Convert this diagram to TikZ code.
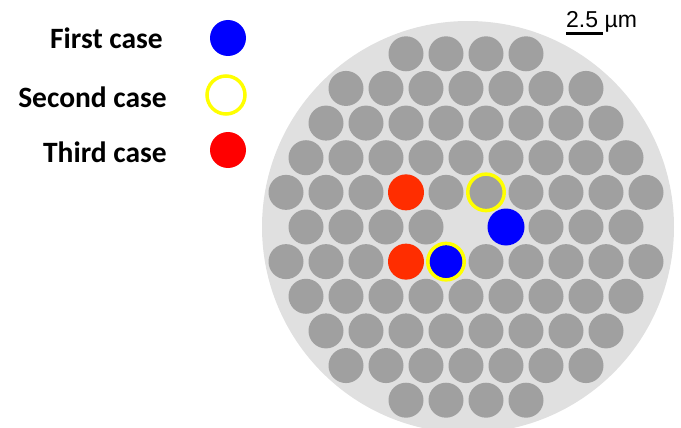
\documentclass[tikz,border=0pt]{standalone}
\usepackage{fontspec}
\newfontfamily\legendfont{Carlito}
\newfontfamily\barfont{Liberation Sans}
\definecolor{fibergray}{RGB}{160,160,160}
\definecolor{cladgray}{RGB}{224,224,224}
\definecolor{caseblue}{RGB}{0,0,255}
\definecolor{caseyellow}{RGB}{255,255,0}
\definecolor{casered}{RGB}{255,0,0}
\definecolor{corered}{RGB}{255,45,0}

\begin{document}
\begin{tikzpicture}[
  x=1pt, y=-1pt,
  fiber/.style={circle, fill=fibergray, minimum size=35pt, inner sep=0pt},
  casedot/.style={circle, minimum size=36pt, inner sep=0pt},
  casering/.style={circle, draw=caseyellow, line width=3.5pt,
                   minimum size=36.5pt, inner sep=0pt},
  legendtext/.style={font=\legendfont\bfseries\fontsize{29.5}{34}\selectfont,
                     anchor=base east, inner sep=0pt}
]
\useasboundingbox (0,0) rectangle (681,428);

% cladding
\fill[cladgray] (468,227) circle[radius=206pt];

% hexagonal lattice of cores, centre one missing
\foreach \k/\n in {-5/4,-4/7,-3/8,-2/9,-1/10,0/9,1/10,2/9,3/8,4/7,5/4} {
  \foreach \i in {1,...,\n} {
    \pgfmathsetmacro\jpos{\i-(\n+1)/2}
    \pgfmathtruncatemacro\isgap{(\k==0)&&(\i==5)}
    \ifnum\isgap=0
      \node[fiber] (f\k-\i) at ({466+40*\jpos},{227+34.64*\k}) {};
    \fi
  }
}

% marked cores
\node[casedot, fill=corered] (redA) at (f-1-4) {};
\node[casering] (ringA) at (f-1-6) {};
\node[casedot, fill=caseblue, minimum size=37pt] (blueA) at (f0-6) {};
\node[casedot, fill=corered] (redB) at (f1-4) {};
\node[casedot, fill=caseblue, minimum size=33pt] (blueB) at (f1-5) {};
\node[casering] (ringB) at (blueB) {};

% legend
\node[legendtext] (first) at (163,49) {First case};
\node[casedot, fill=caseblue] (firstdot) at (228,38) {};
\node[legendtext] (second) at (167,107) {Second case};
\node[casering, minimum size=38pt] (seconddot) at (226,95) {};
\node[legendtext] (third) at (167,162) {Third case};
\node[casedot, fill=casered] (thirddot) at (228,150) {};

% scale bar
\node[font=\barfont\fontsize{23}{27}\selectfont, anchor=base west,
      inner sep=0pt] (scale) at (566,27.5) {2.5 µm};
\draw[line width=3.5pt] (566,33.5) -- (603,33.5);
\end{tikzpicture}
\end{document}
